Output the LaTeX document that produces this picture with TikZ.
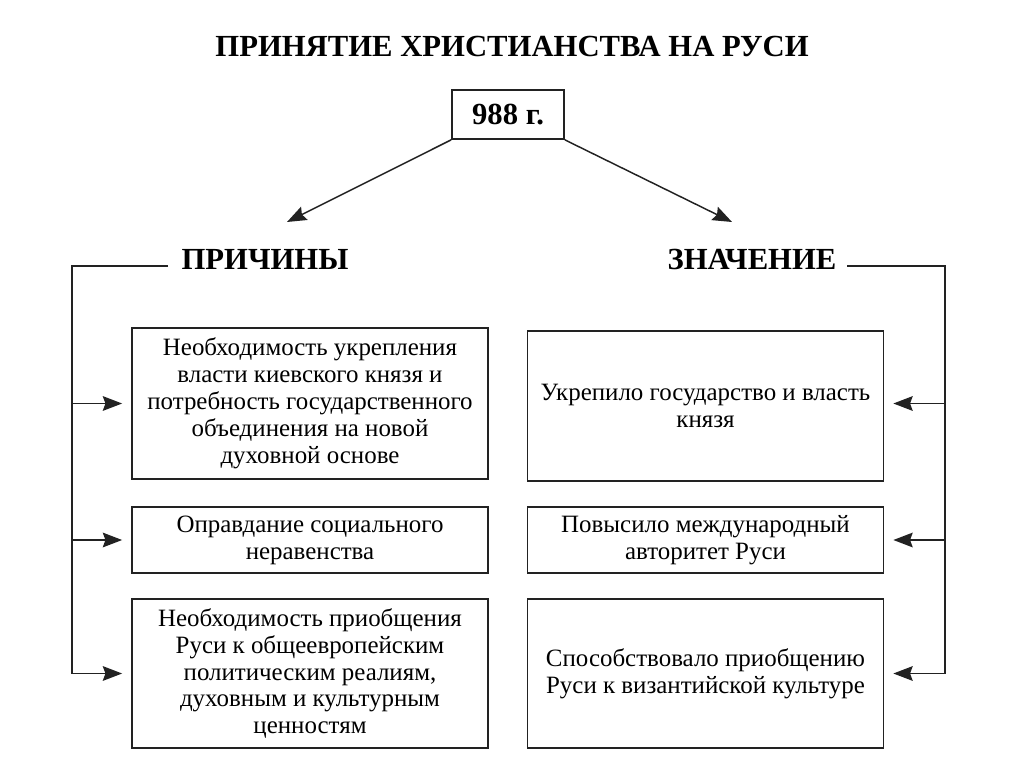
\documentclass[tikz,border=0pt]{standalone}
\usepackage{fontspec}
\setmainfont{Liberation Serif}
\usetikzlibrary{arrows.meta}
\definecolor{lc}{HTML}{222222}
\begin{document}
\begin{tikzpicture}[x=0.75pt,y=-0.75pt,
  box/.style={draw=lc, line width=1.3pt, align=center, inner sep=0pt,
    font=\fontsize{18.7}{20.2}\selectfont, minimum width=267pt},
  headf/.style={font=\fontsize{23}{26}\selectfont\bfseries, inner sep=0pt},
  conn/.style={draw=lc, line width=1.1pt},
  arr/.style={conn, -{Stealth[length=14.5pt,width=11pt,inset=2pt]}},
  sarr/.style={arr, shorten >=6.75pt}
]
\useasboundingbox (0,0) rectangle (1024,767);
\fill[white] (0,0) rectangle (1024,767);

% title and year
\node[headf] (title) at (512,46) {ПРИНЯТИЕ ХРИСТИАНСТВА НА РУСИ};
\node[draw=lc, line width=1.3pt, font=\fontsize{23}{26}\selectfont\bfseries,
      minimum width=84pt, minimum height=36.75pt, inner sep=0pt] (year) at (508,114.5) {988 г.};

% headings
\node[headf] (causes) at (265,259) {ПРИЧИНЫ};
\node[headf] (meaning) at (752,259) {ЗНАЧЕНИЕ};

\coordinate (ca) at (287,222);
\coordinate (ma) at (732,222);
\draw[arr] (year.south west) -- (ca);
\draw[arr] (year.south east) -- (ma);

% left boxes
\node[box, minimum height=113.25pt] (c1) at (310,403.5)
  {Необходимость укрепления\\власти киевского князя и\\потребность государственного\\объединения на новой\\духовной основе};
\node[box, minimum height=49.5pt] (c2) at (310,540)
  {Оправдание социального\\неравенства};
\node[box, minimum height=111.75pt] (c3) at (310,673.5)
  {Необходимость приобщения\\Руси к общеевропейским\\политическим реалиям,\\духовным и культурным\\ценностям};

% right boxes
\node[box, minimum height=112.5pt] (m1) at (705.5,406)
  {Укрепило государство и власть\\князя};
\node[box, minimum height=49.5pt] (m2) at (705.5,540)
  {Повысило международный\\авторитет Руси};
\node[box, minimum height=111.75pt] (m3) at (705.5,673.5)
  {Способствовало приобщению\\Руси к византийской культуре};

% left bracket
\coordinate (lt) at (168,266);
\coordinate (lc) at (72,266);
\coordinate (lb) at (72,674);
\draw[conn] (lt) -- (lc) -- (lb);
\foreach \b in {c1,c2,c3} \draw[sarr] (lc |- \b.west) -- (\b.west);

% right bracket
\coordinate (rt) at (847,266);
\coordinate (rc) at (945,266);
\coordinate (rb) at (945,674);
\draw[conn] (rt) -- (rc) -- (rb);
\draw[sarr] (rc |- c1.east) -- (m1.east |- c1.east);
\draw[sarr] (rc |- m2.east) -- (m2.east);
\draw[sarr] (rc |- m3.east) -- (m3.east);
\end{tikzpicture}
\end{document}
